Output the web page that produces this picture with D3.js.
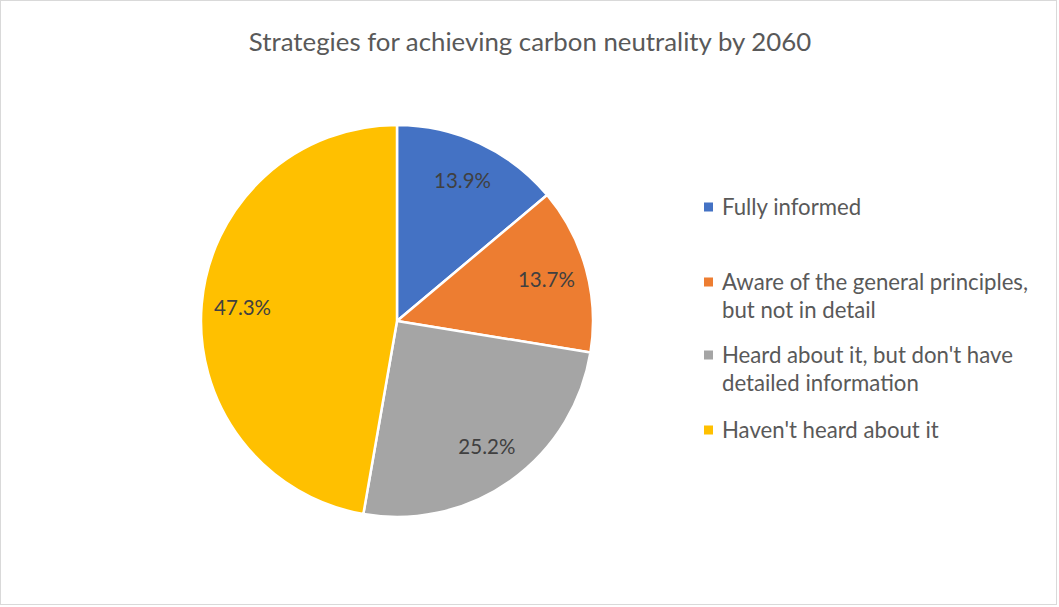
<!DOCTYPE html>
<html>
<head>
<meta charset="utf-8">
<script src="https://cdn.jsdelivr.net/npm/d3@7"></script>
<style>
  html, body { margin: 0; padding: 0; background: #fff; }
  svg { display: block; }
  text { font-family: Lato, "Open Sans", sans-serif; }
</style>
</head>
<body>
<svg id="chart" width="1059" height="607"></svg>
<script>
const title = "Strategies for achieving carbon neutrality by 2060";
const categories = [
  "Fully informed",
  "Aware of the general principles, but not in detail",
  "Heard about it, but don't have detailed information",
  "Haven't heard about it"
];
const legendLines = [
  ["Fully informed"],
  ["Aware of the general principles,", "but not in detail"],
  ["Heard about it, but don't have", "detailed information"],
  ["Haven't heard about it"]
];
const shares = [13.9, 13.7, 25.2, 47.3];
const colors = ["#4472C4", "#ED7D31", "#A5A5A5", "#FFC000"];

const svg = d3.select("#chart");

// chart frame
svg.append("rect")
  .attr("x", 0.5).attr("y", 0.5)
  .attr("width", 1056).attr("height", 604)
  .attr("fill", "#fff").attr("stroke", "#d9d9d9").attr("stroke-width", 1);

svg.append("text")
  .attr("x", 530).attr("y", 51)
  .attr("text-anchor", "middle")
  .attr("font-size", 25.8)
  .attr("fill", "#595959")
  .text(title);

const cx = 397, cy = 321, R = 196;
const color = d3.scaleOrdinal().domain(categories).range(colors);

const pie = d3.pie().sort(null).value(d => d.v);
const data = categories.map((c, i) => ({ c, v: shares[i] }));
const arcs = pie(data);

const arc = d3.arc().innerRadius(0).outerRadius(R);
const labelArc = d3.arc().innerRadius(155).outerRadius(155);

const g = svg.append("g").attr("transform", `translate(${cx},${cy})`);

g.selectAll("path")
  .data(arcs)
  .join("path")
  .attr("d", arc)
  .attr("fill", d => color(d.data.c))
  .attr("stroke", "#fff")
  .attr("stroke-width", 2.5)
  .attr("stroke-linejoin", "round");

g.selectAll("text.lbl")
  .data(arcs)
  .join("text")
  .attr("class", "lbl")
  .attr("transform", d => `translate(${labelArc.centroid(d)})`)
  .attr("text-anchor", "middle")
  .attr("dy", "0.35em")
  .attr("font-size", 20.5)
  .attr("fill", "#404040")
  .text(d => d.data.v.toFixed(1) + "%");

// legend
const legendTops = [207, 282, 355, 430];
const lg = svg.append("g");
categories.forEach((c, i) => {
  const y = legendTops[i];
  lg.append("rect")
    .attr("x", 704).attr("y", y - 4.5)
    .attr("width", 9).attr("height", 9)
    .attr("fill", color(c));
  const t = lg.append("text")
    .attr("x", 722).attr("y", y)
    .attr("font-size", 22.2)
    .attr("fill", "#595959");
  legendLines[i].forEach((line, j) => {
    t.append("tspan").attr("x", 722).attr("dy", j === 0 ? "0.35em" : 28).text(line);
  });
});
</script>
</body>
</html>
